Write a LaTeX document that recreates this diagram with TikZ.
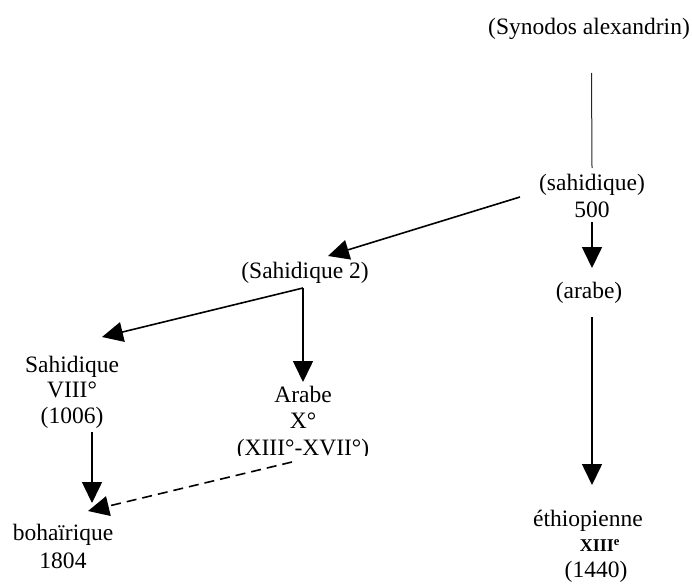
\documentclass[tikz,border=0pt]{standalone}
\usepackage{fontspec}
\setmainfont{Liberation Serif}
\usetikzlibrary{arrows.meta,calc}
\tikzset{
  lbl/.style={inner sep=0pt, anchor=base, font=\fontsize{23.5}{26.5}\selectfont},
  arr/.style={line width=1.6pt, -{Triangle[width=20pt,length=21pt]}},
  dasharr/.style={arr, dash pattern=on 10pt off 6pt},
  thinline/.style={line width=1pt, black!85},
}
\newcommand{\mlines}[1]{\begin{tabular}[t]{@{}c@{}}#1\end{tabular}}
\begin{document}
\begin{tikzpicture}[x=1pt,y=-1pt]
\useasboundingbox (0,0) rectangle (692,583);
% labels
\node[lbl] (syn) at (589,35) {(Synodos alexandrin)};
\node[lbl] (sah) at (592,190) {\mlines{(sahidique)\\[0.5pt]500}};
\node[lbl] (ara) at (589,298) {(arabe)};
\node[lbl] (eth) at (588,526) {\mlines{éthiopienne\\[-1pt]\hspace*{24pt}{\fontsize{18}{20}\selectfont\bfseries XIII\textsuperscript{e}}\\[-1pt]\hspace*{16pt}(1440)}};
\node[lbl] (s2) at (305,278) {(Sahidique 2)};
\node[lbl] (sah8) at (72,372) {\mlines{Sahidique\\[-1pt]VIII°\\[-1pt](1006)}};
\begin{scope}
  \clip (200,300) rectangle (420,455);
  \node[lbl] (arb) at (303,402) {\mlines{Arabe\\X°\\(XIII°-XVII°)}};
\end{scope}
\node[lbl] (boh) at (63,540) {\mlines{bohaïrique\\[1.5pt]1804}};
% connectors
\draw[thinline] ($(syn.base)+(2.5,38)$) -- ($(sah.base)+(0,-22)$);
\draw[arr] ($(sah.base)+(-72,7)$) -- ($(s2.base)+(23,-22)$);
\draw[arr] ($(sah.base)+(0,32)$) -- ($(ara.base)+(3,-30)$);
\draw[arr] ($(ara.base)+(3,19)$) -- ($(eth.base)+(4,-41)$);
\draw[arr] ($(s2.base)+(-2,10)$) -- ($(sah8.base)+(30,-35)$);
\draw[arr] ($(s2.base)+(-2,10)$) -- ($(arb.base)+(0,-20)$);
\draw[arr] ($(sah8.base)+(20,60)$) -- ($(boh.base)+(29,-37)$);
\draw[dasharr] ($(arb.base)+(-11,60)$) -- ($(boh.base)+(25,-29)$);
\end{tikzpicture}
\end{document}
